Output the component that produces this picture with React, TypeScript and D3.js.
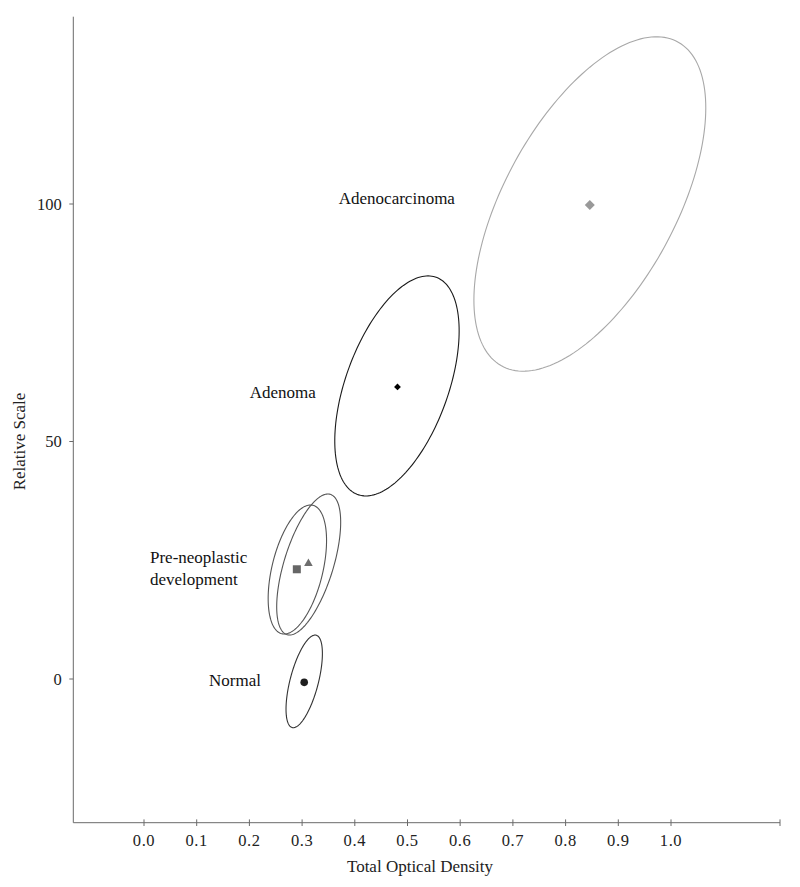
import React from "react";
import * as d3 from "d3";

// ---- data ----
const groupNames = ["Normal", "Pre-neoplastic A", "Pre-neoplastic B", "Adenoma", "Adenocarcinoma"];
const ellipseCenterX = [0.304, 0.291, 0.3125, 0.48, 0.846];
const ellipseCenterY = [-0.5, 23.05, 24.1, 61.7, 100];
const ellipseHalfWidth = [0.0345, 0.0554, 0.0607, 0.118, 0.22];
const ellipseHalfHeight = [9.75, 13.58, 14.84, 23.16, 35.2];
const ellipseCorrelation = [0.6, 0.45, 0.6, 0.5, 0.575];
const meanX = [0.304, 0.29, 0.312, 0.481, 0.846];
const meanY = [-0.7, 23.1, 24.5, 61.5, 99.8];

const xTicks = [0.0, 0.1, 0.2, 0.3, 0.4, 0.5, 0.6, 0.7, 0.8, 0.9, 1.0];
const xTickLabels = ["0.0", "0.1", "0.2", "0.3", "0.4", "0.5", "0.6", "0.7", "0.8", "0.9", "1.0"];
const yTicks = [0, 50, 100];
const yTickLabels = ["0", "50", "100"];

const annotationText = [["Normal"], ["Pre-neoplastic", "development"], ["Adenoma"], ["Adenocarcinoma"]];
const annotationX = [0.222, 0.0114, 0.326, 0.59];
const annotationY = [-1.5, 24.4, 59.2, 100];

// ---- styles ----
const ellipseStroke = ["#333", "#555", "#555", "#1a1a1a", "#a8a8a8"];
const markerShape = ["circle", "square", "triangle", "diamondSmall", "diamond"];
const markerFill = ["#1e1e1e", "#666", "#6e6e6e", "#000", "#999"];
const annotationAnchor = ["end", "start", "end", "end"];

const W = 800;
const H = 887;
const FONT = "'Liberation Serif', 'Times New Roman', serif";

export default function App() {
  const x = d3.scaleLinear().domain([0, 1]).range([144, 671]);
  const y = d3.scaleLinear().domain([0, 100]).range([679, 204]);
  const xMin = x.invert(73.3);
  const xMax = x.invert(780);
  const yMin = y.invert(822.7);
  const yMax = y.invert(16.7);

  const line = d3
    .line<[number, number]>()
    .x((d) => x(d[0]))
    .y((d) => y(d[1]))
    .curve(d3.curveLinearClosed);

  const ellipsePath = (i: number) => {
    const pts: [number, number][] = [];
    const r = ellipseCorrelation[i];
    const s = Math.sqrt(1 - r * r);
    const n = 180;
    for (let k = 0; k < n; k++) {
      const t = (k / n) * Math.PI * 2;
      pts.push([
        ellipseCenterX[i] + ellipseHalfWidth[i] * Math.cos(t),
        ellipseCenterY[i] + ellipseHalfHeight[i] * (r * Math.cos(t) + s * Math.sin(t)),
      ]);
    }
    return line(pts) || "";
  };

  const marker = (i: number) => {
    const cx = x(meanX[i]);
    const cy = y(meanY[i]);
    const shape = markerShape[i];
    const fill = markerFill[i];
    if (shape === "circle") return <circle key={i} cx={cx} cy={cy} r={3.8} fill={fill} />;
    if (shape === "square") return <rect key={i} x={cx - 4} y={cy - 4} width={8} height={8} fill={fill} />;
    if (shape === "triangle")
      return <path key={i} d={`M${cx},${cy - 4.2}L${cx + 4.3},${cy + 3.3}L${cx - 4.3},${cy + 3.3}Z`} fill={fill} />;
    const h = shape === "diamondSmall" ? 3.4 : 5;
    return <path key={i} d={`M${cx},${cy - h}L${cx + h},${cy}L${cx},${cy + h}L${cx - h},${cy}Z`} fill={fill} />;
  };

  const axisColor = "#6a6a6a";

  return (
    <svg
      width={W}
      height={H}
      style={{ position: "absolute", left: 0, top: 0, background: "#fff" }}
      fontFamily={FONT}
    >
      <rect x={0} y={0} width={W} height={H} fill="#fff" />
      {/* axes */}
      <line x1={x(xMin)} x2={x(xMin)} y1={y(yMax)} y2={y(yMin)} stroke={axisColor} strokeWidth={1} />
      <line x1={x(xMin)} x2={x(xMax)} y1={y(yMin)} y2={y(yMin)} stroke={axisColor} strokeWidth={1} />
      {xTicks.map((t, i) => (
        <g key={"xt" + i}>
          <line x1={x(t)} x2={x(t)} y1={y(yMin) - 3.3} y2={y(yMin) + 3.3} stroke={axisColor} />
          <text x={x(t)} y={y(yMin) + 23.5} textAnchor="middle" fontSize={16.5} fill="#222" letterSpacing={0.6}>
            {xTickLabels[i]}
          </text>
        </g>
      ))}
      <line x1={x(xMax)} x2={x(xMax)} y1={y(yMin) - 3.3} y2={y(yMin) + 3.3} stroke={axisColor} />
      {yTicks.map((t, i) => (
        <g key={"yt" + i}>
          <line x1={x(xMin) - 4} x2={x(xMin)} y1={y(t)} y2={y(t)} stroke={axisColor} />
          <text x={x(xMin) - 11.5} y={y(t) + 5.5} textAnchor="end" fontSize={16.5} fill="#222">
            {yTickLabels[i]}
          </text>
        </g>
      ))}
      <text x={420} y={872} textAnchor="middle" fontSize={17} fill="#222">
        Total Optical Density
      </text>
      <text
        transform={`translate(25,${y(50)}) rotate(-90)`}
        textAnchor="middle"
        fontSize={17}
        fill="#222"
      >
        Relative Scale
      </text>

      {/* ellipses */}
      {groupNames.map((g, i) => (
        <path key={g} d={ellipsePath(i)} fill="none" stroke={ellipseStroke[i]} strokeWidth={1.1} />
      ))}
      {groupNames.map((_, i) => marker(i))}

      {/* annotations */}
      {annotationText.map((lines, i) => (
        <text
          key={"a" + i}
          x={x(annotationX[i])}
          y={y(annotationY[i])}
          textAnchor={annotationAnchor[i]}
          fontSize={17}
          fill="#111"
        >
          {lines.map((l, j) => (
            <tspan key={j} x={x(annotationX[i])} dy={j === 0 ? 0 : 21.7}>
              {l}
            </tspan>
          ))}
        </text>
      ))}
    </svg>
  );
}
